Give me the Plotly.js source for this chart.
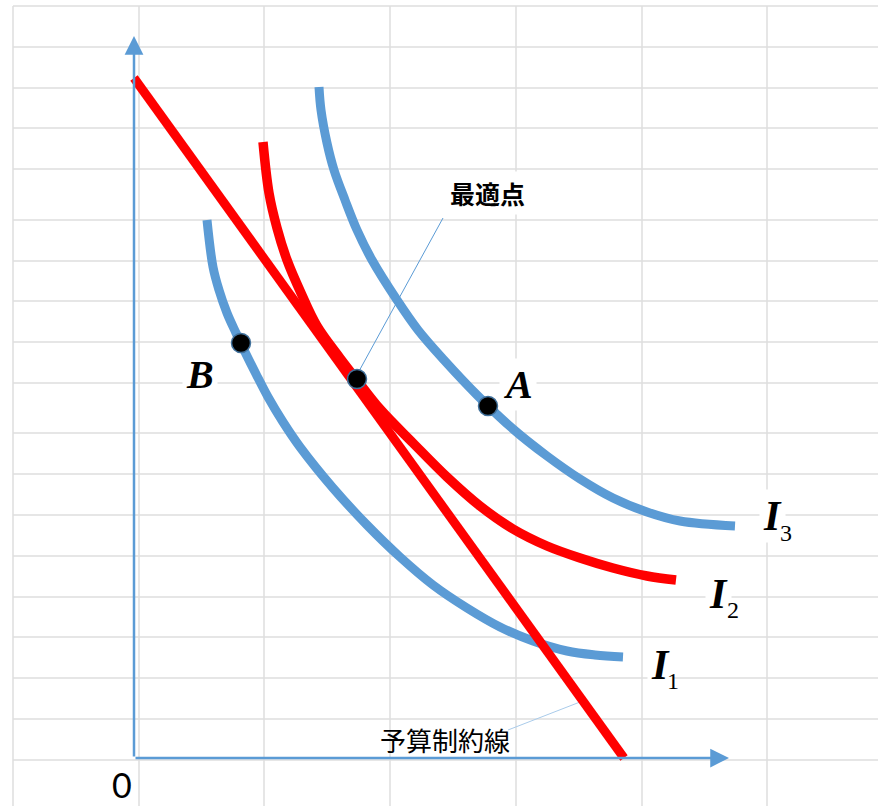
<!DOCTYPE html>
<html>
<head>
<meta charset="utf-8">
<script src="https://cdn.plot.ly/plotly-3.0.1.min.js"></script>
<style>
html,body{margin:0;padding:0;background:#fff;}
#chart{width:878px;height:806px;}
</style>
</head>
<body>
<div id="chart"></div>
<script>
// ---- data (units: origin at the axes corner) ----
const budgetX = [0, 49.0];
const budgetY = [68.0, 0.0];

const i1X = [7.3, 7.9, 8.5, 9.3, 10.2, 11.1, 12.2, 13.4, 14.9, 16.6, 19.9, 23.3, 26.6, 29.9, 33.3, 36.6, 39.9, 43.3, 46.1, 48.9];
const i1Y = [53.8, 49.1, 46.8, 44.5, 42.5, 40.6, 38.4, 36.1, 33.6, 31.1, 27.0, 23.3, 20.1, 17.3, 15.0, 13.1, 11.7, 10.7, 10.3, 10.1];

const i2X = [12.9, 13.5, 14.3, 15.3, 16.7, 18.3, 20.6, 22.3, 24.6, 27.9, 31.3, 34.6, 37.9, 41.3, 44.6, 47.9, 51.3, 54.2];
const i2Y = [61.6, 56.5, 53.0, 49.8, 46.5, 43.2, 40.0, 37.8, 34.9, 31.5, 28.1, 25.2, 22.9, 21.2, 20.0, 19.0, 18.2, 17.8];

const i3X = [18.5, 18.7, 19.3, 20.0, 21.1, 22.3, 23.8, 26.3, 28.4, 31.0, 34.4, 37.9, 41.3, 44.6, 47.9, 51.3, 54.6, 60.1];
const i3Y = [67.1, 64.8, 61.5, 58.8, 55.8, 52.8, 49.8, 45.8, 42.8, 39.8, 36.2, 32.9, 30.2, 27.9, 26.0, 24.6, 23.7, 23.2];

const pointNames = ['B', '最適点', 'A'];
const pointX = [10.7, 22.3, 35.4];
const pointY = [41.5, 37.9, 35.2];

// leader lines [label end, target end]
const leaderOptX = [30.9, 22.4];
const leaderOptY = [54.0, 38.5];
const leaderBudX = [37.4, 44.6];
const leaderBudY = [2.8, 5.6];

// background sheet grid (first entries are the sheet's left / top borders)
const gridX = [-12.1, 0.5, 13.0, 25.6, 38.2, 50.8, 63.3];
const gridY = [75.2, 71.1, 67.0, 63.0, 58.9, 53.8, 49.7, 45.7, 41.6, 37.5, 32.5, 28.4, 24.3, 20.2, 16.1, 12.1, 8.0, 3.9, -0.2];

// axis arrows
const axisOrigin = [0, 0];
const yAxisTip = 72.2;
const xAxisTip = 59.5;

const BLUE = '#5B9BD5';
const RED = '#FF0000';
const GRID = '#dedede';
const X_RANGE = [-12.4, 74.4];
const Y_RANGE = [-4.8, 75.5];

const sm = 1.0;
const traces = [
  {x: i1X, y: i1Y, mode: 'lines', line: {color: BLUE, width: 9, shape: 'spline', smoothing: sm}, hoverinfo: 'skip'},
  {x: i3X, y: i3Y, mode: 'lines', line: {color: BLUE, width: 9, shape: 'spline', smoothing: sm}, hoverinfo: 'skip'},
  {x: leaderOptX, y: leaderOptY, mode: 'lines', line: {color: BLUE, width: 1}, hoverinfo: 'skip'},
  {x: leaderBudX, y: leaderBudY, mode: 'lines', line: {color: '#A9CBEA', width: 1}, hoverinfo: 'skip'},
  {x: i2X, y: i2Y, mode: 'lines', line: {color: RED, width: 9.5, shape: 'spline', smoothing: sm}, hoverinfo: 'skip'},
  {x: budgetX, y: budgetY, mode: 'lines', line: {color: RED, width: 9}, hoverinfo: 'skip'},
  {x: pointX, y: pointY, text: pointNames, mode: 'markers',
   marker: {color: '#000', size: 19, line: {color: '#41719C', width: 1.5}}, hoverinfo: 'text'}
];

const serif = 'Liberation Serif, Times New Roman, serif';
const cjk = 'Noto Sans CJK JP, Noto Sans CJK SC, sans-serif';

function lbl(x, y, text, size, family, extra) {
  return Object.assign({x: x, y: y, xref: 'x', yref: 'y', text: text, showarrow: false,
    font: {family: family, size: size, color: '#000'}, xanchor: 'center', yanchor: 'middle',
    bgcolor: '#fff', borderpad: 3}, extra || {});
}
const clear = {bgcolor: 'rgba(0,0,0,0)'};

const annotations = [
  // axes
  {x: axisOrigin[0], y: yAxisTip, ax: axisOrigin[0], ay: axisOrigin[1], xref: 'x', yref: 'y', axref: 'x', ayref: 'y',
   text: '', showarrow: true, arrowhead: 2, arrowsize: 1.5, arrowwidth: 2.5, arrowcolor: BLUE, standoff: 0},
  {x: xAxisTip, y: axisOrigin[1], ax: axisOrigin[0], ay: axisOrigin[1], xref: 'x', yref: 'y', axref: 'x', ayref: 'y',
   text: '', showarrow: true, arrowhead: 2, arrowsize: 1.5, arrowwidth: 2.5, arrowcolor: BLUE, standoff: 0},
  // labels
  lbl(6.6, 38.4, '<b><i>B</i></b>', 40, serif),
  lbl(38.4, 37.4, '<b><i>A</i></b>', 40, serif),
  lbl(63.8, 24.2, '<b><i>I</i></b>', 42, serif),
  lbl(65.2, 22.5, '3', 24, serif, clear),
  lbl(58.4, 16.4, '<b><i>I</i></b>', 42, serif),
  lbl(59.9, 14.8, '2', 24, serif, clear),
  lbl(52.6, 9.3, '<b><i>I</i></b>', 42, serif),
  lbl(53.9, 7.7, '1', 24, serif, clear),
  lbl(35.3, 56.5, '<b>最適点</b>', 25, cjk),
  lbl(31.1, 1.9, '予算制約線', 26, cjk, clear),
  lbl(-1.2, -2.6, '0', 34, 'Lato, Noto Sans, sans-serif', clear)
];

// sheet grid lines built from the grid arrays
const shapes = [];
gridX.forEach(function (gx) {
  shapes.push({type: 'line', xref: 'x', yref: 'y', x0: gx, x1: gx, y0: Y_RANGE[0], y1: gridY[0],
               line: {color: GRID, width: 1.5}, layer: 'below'});
});
gridY.forEach(function (gy) {
  shapes.push({type: 'line', xref: 'x', yref: 'y', x0: gridX[0], x1: X_RANGE[1], y0: gy, y1: gy,
               line: {color: GRID, width: 1.5}, layer: 'below'});
});

const layout = {
  width: 878, height: 806, autosize: false,
  margin: {l: 10, r: 0, t: 3, b: 0, pad: 0},
  paper_bgcolor: '#fff', plot_bgcolor: '#fff',
  showlegend: false,
  xaxis: {range: X_RANGE, showgrid: false, showticklabels: false, ticks: '', zeroline: false, showline: false, fixedrange: true},
  yaxis: {range: Y_RANGE, showgrid: false, showticklabels: false, ticks: '', zeroline: false, showline: false, fixedrange: true},
  shapes: shapes,
  annotations: annotations
};

Plotly.newPlot('chart', traces, layout, {displayModeBar: false, staticPlot: true});
</script>
</body>
</html>
